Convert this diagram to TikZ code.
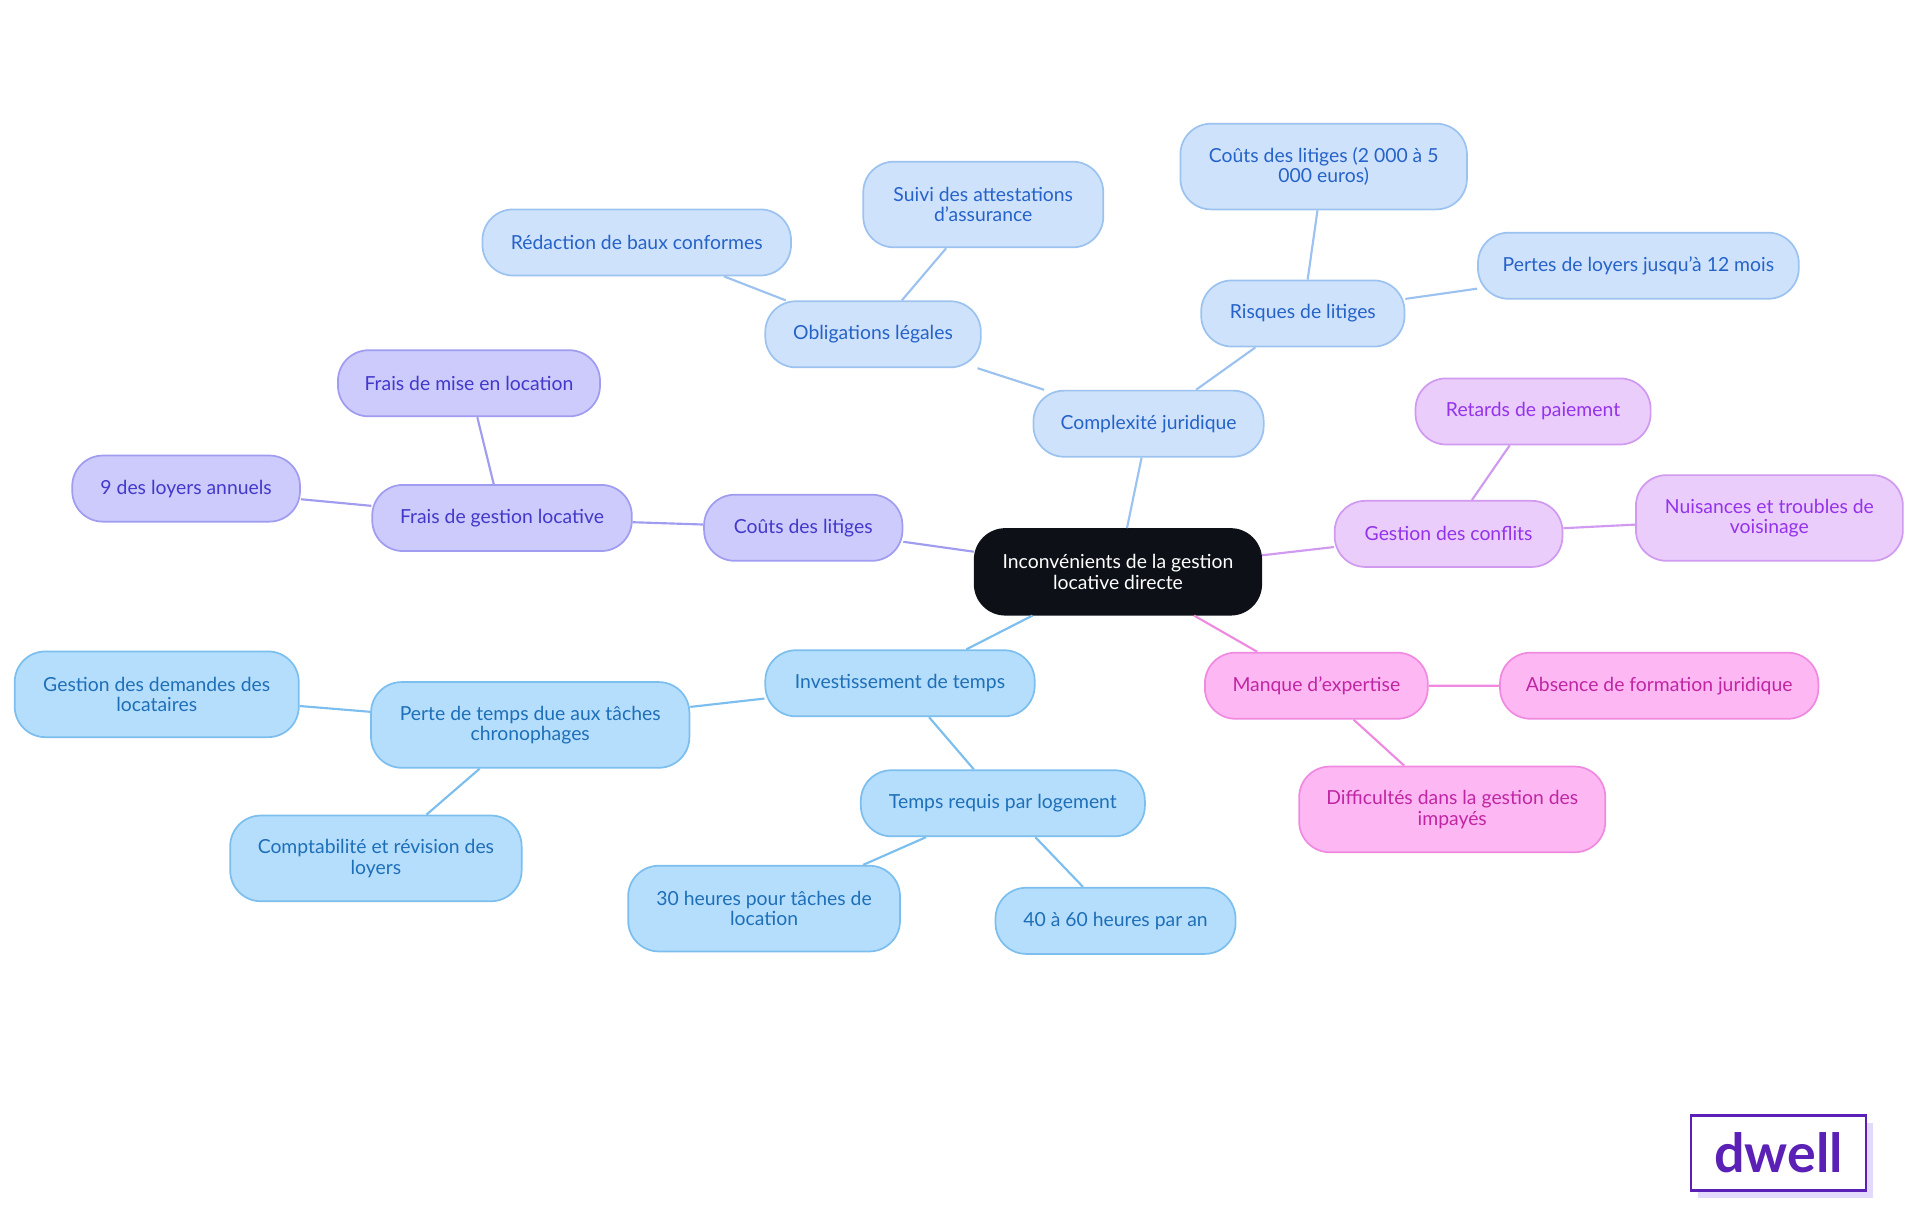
\documentclass[tikz,border=0pt]{standalone}
\usepackage{fontspec}
\setmainfont{Lato}
\definecolor{rootfill}{HTML}{0D1117}
\definecolor{bluefill}{HTML}{CFE2FB}\definecolor{blueline}{HTML}{9CC3F0}\definecolor{bluetext}{HTML}{2563C9}
\definecolor{purfill}{HTML}{CCCBFB}\definecolor{purline}{HTML}{A09CF0}\definecolor{purtext}{HTML}{4338CA}
\definecolor{vioFill}{HTML}{EBCDFB}\definecolor{violine}{HTML}{D09AF0}\definecolor{viotext}{HTML}{9333EA}
\definecolor{pinkfill}{HTML}{FDB8F3}\definecolor{pinkline}{HTML}{F08AE0}\definecolor{pinktext}{HTML}{C026A3}
\definecolor{skyfill}{HTML}{B5DEFC}\definecolor{skyline}{HTML}{7CBFEE}\definecolor{skytext}{HTML}{1E6FB8}
\definecolor{logo}{HTML}{5B21B6}\definecolor{logoshadow}{HTML}{E3D9FB}
\tikzset{
  box/.style={rectangle, rounded corners=0.5cm, draw, line width=0.8pt, align=center,
    font=\fontsize{9}{9.5}\selectfont, minimum height=1.08cm, inner sep=2pt},
  root/.style={box, fill=rootfill, draw=rootfill, text=white, minimum height=1.4cm},
  blue/.style={box, fill=bluefill, draw=blueline, text=bluetext},
  pur/.style={box, fill=purfill, draw=purline, text=purtext},
  vio/.style={box, fill=vioFill, draw=violine, text=viotext},
  pink/.style={box, fill=pinkfill, draw=pinkline, text=pinktext},
  sky/.style={box, fill=skyfill, draw=skyline, text=skytext},
  tall/.style={minimum height=1.4cm},
  w/.style={minimum width=#1*0.02cm},
  link/.style={line width=1pt}
}
\begin{document}
\begin{tikzpicture}[x=0.02cm,y=-0.02cm]
\useasboundingbox (0,0) rectangle (1568,992);
% root
\node[root, w=234] (root) at (913,467) {Inconvénients de la gestion\\locative directe};
% complexite juridique
\node[blue, w=188] (cj) at (938,346) {Complexité juridique};
\node[blue, w=176] (ol) at (713,273) {Obligations légales};
\node[blue, w=252] (rb) at (520,198) {Rédaction de baux conformes};
\node[blue, w=196, tall] (sa) at (803,167) {Suivi des attestations\\d'assurance};
\node[blue, w=166] (rl) at (1064,256) {Risques de litiges};
\node[blue, w=234, tall] (cl) at (1081,136) {Coûts des litiges (2 000 à 5\\000 euros)};
\node[blue, w=262] (pl) at (1338,217) {Pertes de loyers jusqu'à 12 mois};
% couts
\node[pur, w=162] (co) at (656,431) {Coûts des litiges};
\node[pur, w=212] (fg) at (410,423) {Frais de gestion locative};
\node[pur, w=214] (fm) at (383,313) {Frais de mise en location};
\node[pur, w=186] (nl) at (152,399) {9 des loyers annuels};
% conflits
\node[vio, w=186] (gc) at (1183,436) {Gestion des conflits};
\node[vio, w=192] (rp) at (1252,336) {Retards de paiement};
\node[vio, w=218, tall] (nt) at (1445,423) {Nuisances et troubles de\\voisinage};
% expertise
\node[pink, w=182] (me) at (1075,560) {Manque d'expertise};
\node[pink, w=260] (af) at (1355,560) {Absence de formation juridique};
\node[pink, w=250, tall] (di) at (1186,661) {Difficultés dans la gestion des\\impayés};
% temps
\node[sky, w=220] (it) at (735,558) {Investissement de temps};
\node[sky, w=260, tall] (pt) at (433,592) {Perte de temps due aux tâches\\chronophages};
\node[sky, w=232, tall] (gd) at (128,567) {Gestion des demandes des\\locataires};
\node[sky, w=238, tall] (cr) at (307,701) {Comptabilité et révision des\\loyers};
\node[sky, w=232] (tr) at (819,656) {Temps requis par logement};
\node[sky, w=222, tall] (th) at (624,742) {30 heures pour tâches de\\location};
\node[sky, w=196] (qh) at (911,752) {40 à 60 heures par an};
% links
\draw[link, blueline] (root) -- (cj) (cj) -- (ol) (ol) -- (rb) (ol) -- (sa) (cj) -- (rl) (rl) -- (cl) (rl) -- (pl);
\draw[link, purline] (root) -- (co) (co) -- (fg) (fg) -- (fm) (fg) -- (nl);
\draw[link, violine] (root) -- (gc) (gc) -- (rp) (gc) -- (nt);
\draw[link, pinkline] (root) -- (me) (me) -- (af) (me) -- (di);
\draw[link, skyline] (root) -- (it) (it) -- (pt) (pt) -- (gd) (pt) -- (cr) (it) -- (tr) (tr) -- (th) (tr) -- (qh);
% logo
\fill[logoshadow] (1387,917) rectangle (1530,978);
\node[draw=logo, line width=1.2pt, fill=white, minimum width=143*0.02cm, minimum height=61*0.02cm,
  text=logo, font=\fontsize{25}{25}\selectfont\bfseries] (logo) at (1452.5,941.5) {dwell};
\end{tikzpicture}
\end{document}
